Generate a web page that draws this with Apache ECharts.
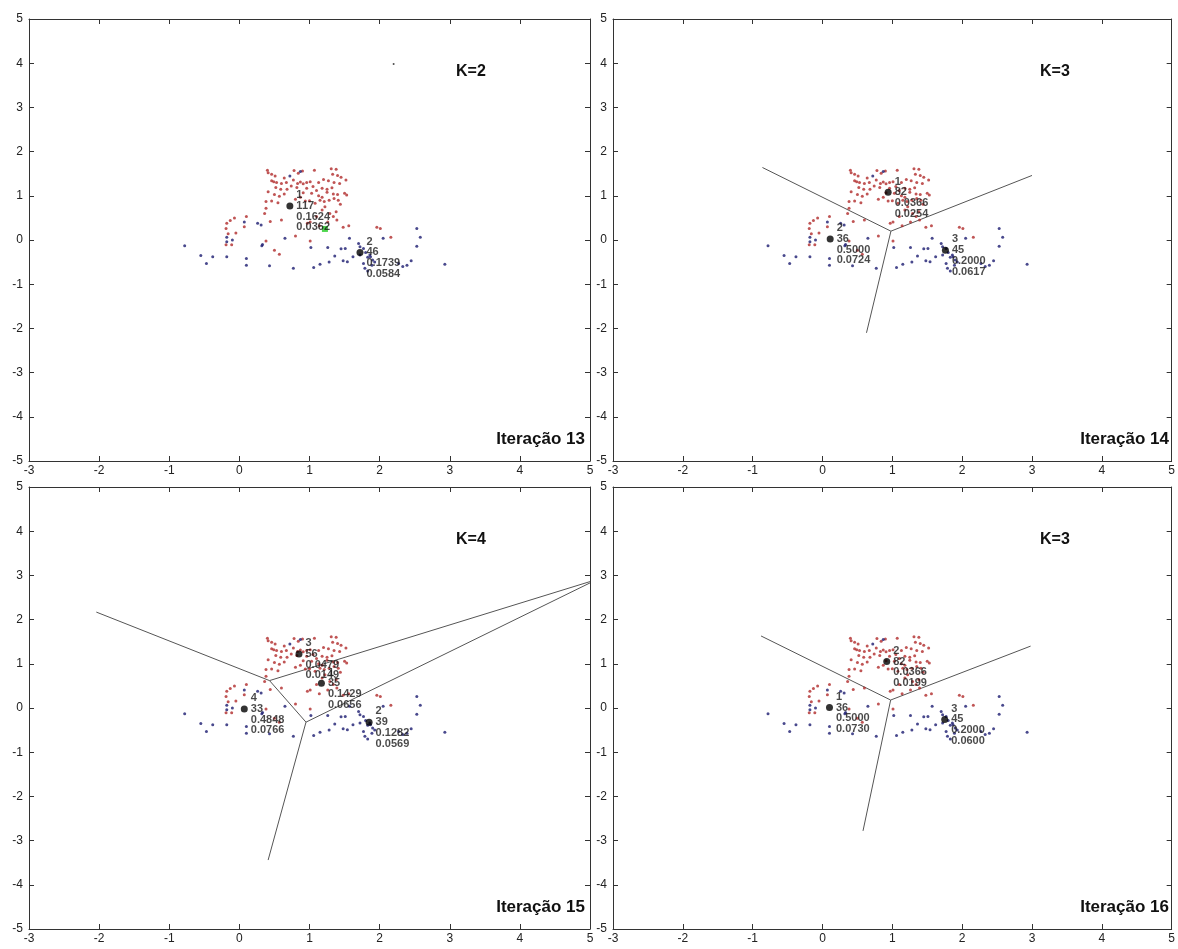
<!DOCTYPE html>
<html><head><meta charset="utf-8">
<script src="https://cdn.jsdelivr.net/npm/echarts@6/dist/echarts.min.js"></script>
<style>html,body{margin:0;padding:0;background:#fff}#c{width:1178px;height:949px}</style>
</head><body><div id="c"></div>
<script>
// ---- data ----
const xTicks = [-3,-2,-1,0,1,2,3,4,5];
const yTicks = [-5,-4,-3,-2,-1,0,1,2,3,4,5];
const redPts = [
[0.40,1.58],[0.41,1.52],[0.46,1.49],[0.51,1.45],[0.64,1.40],[0.78,1.57],[0.84,1.51],[0.90,1.56],[1.07,1.58],[1.31,1.61],
[1.38,1.60],[1.33,1.49],[1.40,1.46],[1.45,1.42],[1.52,1.36],[0.49,1.32],[0.46,1.34],[0.53,1.30],[0.60,1.28],[0.67,1.30],
[0.77,1.36],[0.83,1.28],[0.87,1.31],[0.91,1.27],[0.96,1.30],[1.01,1.32],[1.13,1.30],[1.20,1.37],[1.27,1.34],[1.35,1.30],
[1.43,1.28],[1.32,1.18],[1.25,1.15],[1.18,1.17],[1.10,1.12],[1.05,1.21],[0.96,1.17],[0.82,1.19],[0.74,1.22],[0.68,1.15],
[0.59,1.15],[0.52,1.19],[0.41,1.09],[0.50,1.03],[0.57,0.99],[0.64,1.04],[0.91,1.07],[1.03,1.06],[1.13,1.00],[1.18,0.97],
[1.25,1.08],[1.34,1.04],[1.40,1.03],[1.50,1.06],[1.53,1.02],[0.38,0.87],[0.46,0.88],[0.55,0.84],[0.80,0.92],[0.87,0.97],
[0.94,0.88],[1.00,0.89],[1.08,0.83],[1.15,0.90],[1.21,0.87],[1.28,0.90],[1.35,0.94],[1.41,0.90],[1.44,0.81],[0.38,0.72],
[0.36,0.60],[0.44,0.42],[0.60,0.45],[1.22,0.75],[1.18,0.68],[1.38,0.64],[1.29,0.60],[1.34,0.53],[1.26,0.41],[1.10,0.53],
[0.97,0.38],[1.01,0.41],[1.14,0.32],[1.39,0.45],[1.48,0.29],[1.56,0.32],[0.80,0.09],[-0.18,0.38],[-0.13,0.44],[-0.07,0.50],
[-0.19,0.26],[-0.16,0.14],[-0.05,0.16],[0.07,0.30],[0.10,0.53],[-0.11,-0.11],[0.38,-0.02],[0.50,-0.23],[0.57,-0.32],[1.01,-0.02],
[1.96,0.29],[2.01,0.26],[2.16,0.06],[-0.19,-0.11]
];
const bluePts = [
[-0.78,-0.13],[-0.55,-0.35],[-0.47,-0.53],[-0.38,-0.38],[-0.18,-0.38],[-0.18,0.06],[-0.10,0.00],[-0.18,-0.04],[0.10,-0.42],[0.10,-0.57],
[0.43,-0.58],[0.77,-0.64],[1.06,-0.62],[1.15,-0.55],[1.28,-0.50],[1.36,-0.36],[1.45,-0.20],[1.51,-0.19],[1.54,-0.49],[1.26,-0.17],
[1.02,-0.17],[0.65,0.04],[0.33,-0.10],[0.32,-0.13],[0.07,0.41],[0.26,0.38],[0.31,0.34],[1.57,0.04],[1.70,-0.08],[1.72,-0.15],
[1.77,-0.19],[1.83,-0.39],[1.86,-0.34],[1.87,-0.38],[1.77,-0.53],[1.79,-0.64],[1.83,-0.70],[1.89,-0.57],[2.05,0.04],[2.53,0.26],
[2.58,0.06],[2.53,-0.14],[2.93,-0.55],[2.33,-0.60],[2.27,-0.53],[2.39,-0.57],[2.45,-0.47],[1.72,-0.34],[1.62,-0.38],[1.48,-0.47],
[1.80,-0.28],[1.90,-0.45],[1.93,-0.50],[0.72,1.45],[0.87,1.55]
];
const strayPts = [[2.2,3.98]];
const greenPts = [[1.22,0.25]];

const kTitles = ['K=2','K=3','K=4','K=3'];
const iterTitles = ['Iteração 13','Iteração 14','Iteração 15','Iteração 16'];

const centroids1 = [[0.72,0.77],[1.72,-0.28]];
const cLabels1 = [['1','117','0.1624','0.0362'],['2','46','0.1739','0.0584']];
const centroids2 = [[0.94,1.08],[0.11,0.02],[1.76,-0.23]];
const cLabels2 = [['1','82','0.0366','0.0254'],['2','36','0.5000','0.0724'],['3','45','0.2000','0.0617']];
const centroids3 = [[0.85,1.22],[1.17,0.56],[0.07,-0.02],[1.85,-0.32]];
const cLabels3 = [['3','56','0.0479','0.0149'],['1','35','0.1429','0.0656'],['4','33','0.4848','0.0766'],['2','39','0.1282','0.0569']];
const centroids4 = [[0.92,1.05],[0.10,0.01],[1.75,-0.26]];
const cLabels4 = [['2','82','0.0366','0.0199'],['1','36','0.5000','0.0730'],['3','45','0.2000','0.0600']];

const edges1 = [];
const edges2 = [[0.98,0.20,-0.86,1.64],[0.98,0.20,3.0,1.46],[0.98,0.20,0.63,-2.10]];
const edges3 = [[0.43,0.62,-2.04,2.17],[0.43,0.62,0.95,-0.32],[0.43,0.62,5.0,2.86],[0.95,-0.32,5.0,2.83],[0.95,-0.32,0.41,-3.44]];
const edges4 = [[0.976,0.18,-0.88,1.63],[0.976,0.18,2.98,1.40],[0.976,0.18,0.58,-2.78]];

const panels = [
  {c:centroids1,l:cLabels1,e:edges1,green:true,stray:true},
  {c:centroids2,l:cLabels2,e:edges2},
  {c:centroids3,l:cLabels3,e:edges3},
  {c:centroids4,l:cLabels4,e:edges4}
];

// ---- layout ----
const FONT = 'Arial, "Liberation Sans", sans-serif';
const W = 561, H = 442;
const gridPos = [[29,19],[613,19],[29,487],[613,487]];
const grids = gridPos.map(p => ({left:p[0], top:p[1], width:W, height:H, containLabel:false}));
const axLine = {show:true, onZero:false, lineStyle:{color:'#333', width:1}};
const tick = {inside:true, length:5, lineStyle:{color:'#333'}};
const xAxes = [], yAxes = [];
gridPos.forEach((p,i) => {
  xAxes.push({type:'value', gridIndex:i, min:xTicks[0], max:xTicks[xTicks.length-1], interval:1, position:'bottom',
    axisLine:axLine, axisTick:tick, splitLine:{show:false},
    axisLabel:{fontSize:12, color:'#222', margin:4, fontFamily:FONT, showMinLabel:true, showMaxLabel:true}});
  xAxes.push({type:'value', gridIndex:i, min:xTicks[0], max:xTicks[xTicks.length-1], interval:1, position:'top',
    axisLine:axLine, axisTick:tick, splitLine:{show:false}, axisLabel:{show:false}});
  yAxes.push({type:'value', gridIndex:i, min:yTicks[0], max:yTicks[yTicks.length-1], interval:1, position:'left',
    axisLine:axLine, axisTick:tick, splitLine:{show:false},
    axisLabel:{fontSize:12, color:'#222', margin:6, fontFamily:FONT, showMinLabel:true, showMaxLabel:true}});
  yAxes.push({type:'value', gridIndex:i, min:yTicks[0], max:yTicks[yTicks.length-1], interval:1, position:'right',
    axisLine:axLine, axisTick:tick, splitLine:{show:false}, axisLabel:{show:false}});
});

const series = [];
panels.forEach((pn,i) => {
  const ax = {xAxisIndex:2*i, yAxisIndex:2*i};
  pn.e.forEach(s => series.push(Object.assign({type:'line', data:[[s[0],s[1]],[s[2],s[3]]], symbol:'none',
    lineStyle:{color:'#555', width:1}, silent:true, z:2}, ax)));
  series.push(Object.assign({type:'scatter', data:redPts, symbol:'circle', symbolSize:3, itemStyle:{color:'#b02a2a'}, z:3}, ax));
  series.push(Object.assign({type:'scatter', data:bluePts, symbol:'circle', symbolSize:3, itemStyle:{color:'#1c1c70'}, z:3}, ax));
  if (pn.stray) series.push(Object.assign({type:'scatter', data:strayPts, symbolSize:2, itemStyle:{color:'#222'}, z:3}, ax));
  if (pn.green) series.push(Object.assign({type:'scatter', data:greenPts, symbol:'rect', symbolSize:6, itemStyle:{color:'#22cc22'}, z:5}, ax));
  series.push(Object.assign({type:'scatter', symbol:'circle', symbolSize:7, itemStyle:{color:'#000'}, z:6,
    data: pn.c.map((c,k) => ({value:c, txt:pn.l[k].join('\n')})),
    label:{show:true, position:'right', distance:3, offset:[0,5.3], fontSize:11, fontWeight:'bold', color:'#1a1a1a',
      fontFamily:FONT, lineHeight:10.7, formatter: p => p.data.txt}}, ax));
});

const graphics = [];
gridPos.forEach((p,i) => {
  graphics.push({type:'text', x:p[0]+427, y:p[1]+45, style:{text:kTitles[i], font:'bold 16px '+FONT, fill:'#111'}});
  graphics.push({type:'text', x:p[0]+W-5, y:p[1]+H-13, style:{text:iterTitles[i], font:'bold 17px '+FONT, fill:'#111', align:'right', verticalAlign:'bottom'}});
});

const chart = echarts.init(document.getElementById('c'), null, {renderer:'canvas'});
chart.setOption({animation:false, grid:grids, xAxis:xAxes, yAxis:yAxes, series:series, graphic:graphics, tooltip:{show:false}});
</script></body></html>
